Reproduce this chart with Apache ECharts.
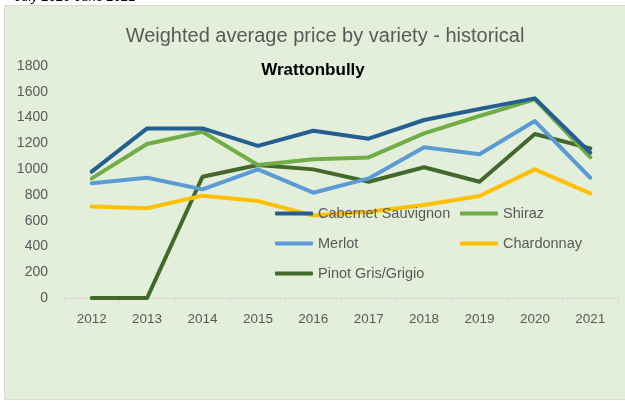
<!DOCTYPE html>
<html>
<head>
<meta charset="utf-8">
<script src="https://cdn.jsdelivr.net/npm/echarts@6/dist/echarts.min.js"></script>
<style>
  html, body { margin: 0; padding: 0; background: #fff; }
  #chart { width: 625px; height: 404px; }
</style>
</head>
<body>
<div id="chart"></div>
<script>
// values
var years = ['2012', '2013', '2014', '2015', '2016', '2017', '2018', '2019', '2020', '2021'];
var cabernet = [980, 1316, 1316, 1180, 1298, 1236, 1381, 1466, 1549, 1127];
var shiraz = [928, 1195, 1290, 1032, 1076, 1091, 1277, 1412, 1541, 1091];
var merlot = [890, 933, 843, 998, 817, 928, 1169, 1115, 1373, 933];
var chardonnay = [709, 696, 794, 752, 640, 670, 721, 791, 998, 812];
var pinot = [0, 0, 941, 1032, 998, 902, 1014, 902, 1272, 1161];

var names = ['Cabernet Sauvignon', 'Shiraz', 'Merlot', 'Chardonnay', 'Pinot Gris/Grigio'];
var colors = ['#255E91', '#70AD47', '#5B9BD5', '#FFC000', '#43682B'];
var allData = [cabernet, shiraz, merlot, chardonnay, pinot];

var font = '"Liberation Sans", Arial, sans-serif';
var grey = '#595959';

// legend spots (2 columns, 3 rows) inside the plot
var legendPos = [[275, 206], [460, 206], [275, 236], [460, 236], [275, 266]];

var chart = echarts.init(document.getElementById('chart'));

chart.setOption({
    animation: false,
    textStyle: { fontFamily: font },
    color: colors,
    graphic: [
        {
            type: 'rect',
            shape: { x: 4.5, y: 5.5, width: 625, height: 394 },
            style: { fill: '#E3EFDA', stroke: '#D9D9D9', lineWidth: 1 },
            z: -10
        },
        {
            type: 'text',
            left: 15, top: -9,
            style: { text: 'July 2020-June 2021', fill: '#000', font: 'italic 13px ' + font }
        }
    ],
    title: [
        {
            text: 'Weighted average price by variety - historical',
            left: 320, top: 21, textAlign: 'center',
            textStyle: { fontSize: 20, fontWeight: 'normal', color: grey, fontFamily: font }
        },
        {
            text: 'Wrattonbully',
            left: 308, top: 57, textAlign: 'center',
            textStyle: { fontSize: 17, fontWeight: 'bold', color: '#000', fontFamily: font }
        }
    ],
    legend: names.map(function (n, i) {
        return {
            data: [n],
            left: legendPos[i][0], top: legendPos[i][1],
            padding: 0,
            icon: 'roundRect',
            itemWidth: 38, itemHeight: 4, itemGap: 4,
            textStyle: { fontSize: 14.5, color: grey, fontFamily: font }
        };
    }),
    grid: { left: 64, right: 7, top: 66, bottom: 106, containLabel: false },
    xAxis: {
        type: 'category',
        data: years,
        boundaryGap: true,
        axisLine: { lineStyle: { color: '#D9D9D9', width: 1 } },
        axisTick: { show: true, length: 5, lineStyle: { color: '#D9D9D9' } },
        axisLabel: { color: grey, fontSize: 13.5, margin: 14, fontFamily: font },
        splitLine: { show: false }
    },
    yAxis: {
        type: 'value',
        min: 0, max: 1800, interval: 200,
        axisLine: { show: false },
        axisTick: { show: false },
        axisLabel: {
            color: grey, fontSize: 14, margin: 16, fontFamily: font,
            formatter: function (v) { return String(v); }
        },
        splitLine: { show: false }
    },
    series: names.map(function (n, i) {
        return {
            name: n,
            type: 'line',
            data: allData[i],
            symbol: 'none',
            lineStyle: { width: 4, color: colors[i], cap: 'round', join: 'round' },
            itemStyle: { color: colors[i] },
            z: 5 - i
        };
    })
});
</script>
</body>
</html>
